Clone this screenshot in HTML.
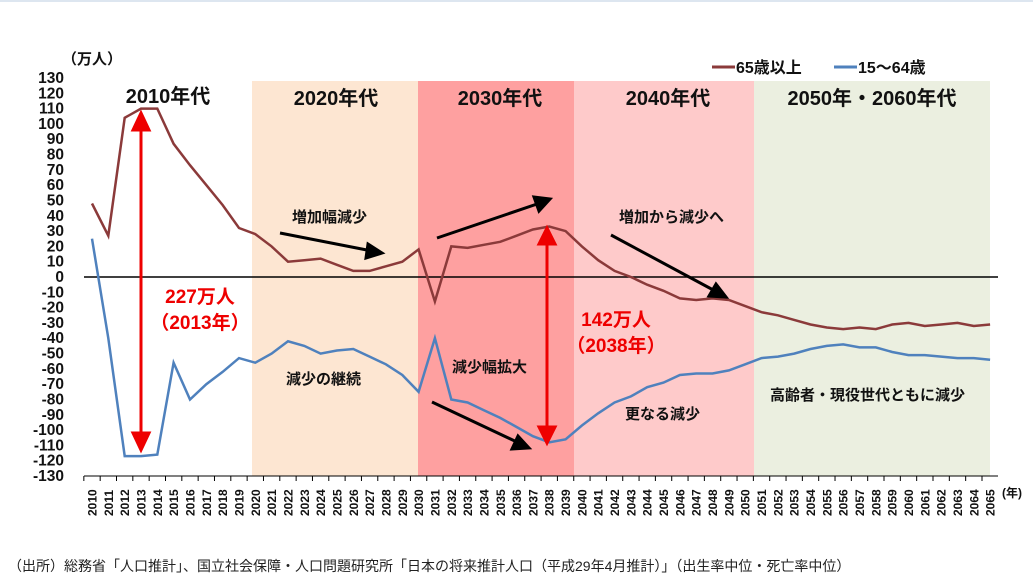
<!DOCTYPE html><html><head><meta charset="utf-8"><style>
body{margin:0;background:#fff;width:1033px;height:581px;overflow:hidden;font-family:"Liberation Sans","Noto Sans CJK JP",sans-serif}
text{font-family:"Liberation Sans","Noto Sans CJK JP",sans-serif}
</style></head><body>
<svg id="s" width="1033" height="581" xmlns="http://www.w3.org/2000/svg">
<line x1="0" y1="1" x2="1033" y2="1" stroke="#dde6f0" stroke-width="2"/>
<rect x="252" y="81" width="166" height="395" fill="#fde6d2"/>
<rect x="418" y="81" width="156" height="395" fill="#fea0a0"/>
<rect x="574" y="81" width="180" height="395" fill="#fecaca"/>
<rect x="754" y="81" width="236" height="395" fill="#ebefe0"/>
<g font-weight="bold" font-size="20" text-anchor="middle" fill="#111">
<text x="168" y="103">2010年代</text><text x="336" y="105">2020年代</text><text x="500" y="105">2030年代</text><text x="668" y="105">2040年代</text><text x="872" y="105">2050年・2060年代</text></g>
<g font-weight="bold" font-size="15" fill="#111">
<text x="62" y="64">（万人）</text>
<line x1="712" y1="67" x2="735" y2="67" stroke="#8b3a3a" stroke-width="3"/><text x="736" y="73" font-size="16">65歳以上</text>
<line x1="834" y1="67" x2="857" y2="67" stroke="#4f81bd" stroke-width="3"/><text x="858" y="73" font-size="16">15～64歳</text>
<text x="292" y="222">増加幅減少</text><text x="619" y="222">増加から減少へ</text>
<text x="286" y="384">減少の継続</text><text x="452" y="372">減少幅拡大</text>
<text x="625" y="419">更なる減少</text><text x="770" y="400">高齢者・現役世代ともに減少</text>
</g>
<g font-weight="bold" font-size="19" fill="#e00" text-anchor="middle">
<text x="200" y="303">227万人</text><text x="200" y="329">（2013年）</text>
<text x="616" y="326">142万人</text><text x="616" y="352">（2038年）</text></g>
<g id="yl" font-weight="bold" font-size="15.5" text-anchor="end" fill="#111"></g>
<g id="xl" font-weight="bold" font-size="12" fill="#111"></g>
<line x1="84" y1="277" x2="998" y2="277" stroke="#000" stroke-width="1.5"/>
<line x1="84" y1="476" x2="998" y2="476" stroke="#000" stroke-width="1"/>
<g id="ticks" stroke="#000"></g>
<path id="p65" fill="none" stroke="#8b3a3a" stroke-width="2.5"/>
<path id="p15" fill="none" stroke="#4f81bd" stroke-width="2.5"/>
<g stroke="#e00" stroke-width="3" fill="#e00">
<line x1="141" y1="125" x2="141" y2="436"/><polygon points="133,130 141,113 149,130"/><polygon points="133,433 141,450 149,433"/>
<line x1="547" y1="240" x2="547" y2="429"/><polygon points="539,244 547,228 555,244"/><polygon points="539,427 547,443 555,427"/></g>
<g stroke="#000" stroke-width="3" fill="#000">
<line x1="280" y1="233" x2="372" y2="251"/><polygon points="382,253 368,244 366,258"/>
<line x1="437" y1="238" x2="540" y2="203"/><polygon points="550,199 534,197 539,211"/>
<line x1="611" y1="235" x2="717" y2="292"/><polygon points="726,297 716,284 709,296"/>
<line x1="432" y1="402" x2="519" y2="443"/><polygon points="529,448 518,436 512,449"/>
</g>
<text x="8" y="571" font-size="14" fill="#222">（出所）総務省「人口推計」、国立社会保障・人口問題研究所「日本の将来推計人口（平成29年4月推計）」（出生率中位・死亡率中位）</text>
</svg>
<script>
var a=[48,27,104,110,110,87,73,60,47,32,28,20,10,11,12,8,4,4,7,10,18,-16,20,19,21,23,27,31,33,30,20,11,4,0,-5,-9,-14,-15,-14,-15,-19,-23,-25,-28,-31,-33,-34,-33,-34,-31,-30,-32,-31,-30,-32,-31];
var b=[25,-40,-117,-117,-116,-56,-80,-70,-62,-53,-56,-50,-42,-45,-50,-48,-47,-52,-57,-64,-75,-40,-80,-82,-87,-92,-98,-104,-108,-106,-97,-89,-82,-78,-72,-69,-64,-63,-63,-61,-57,-53,-52,-50,-47,-45,-44,-46,-46,-49,-51,-51,-52,-53,-53,-54];
function X(i){return 92+i*16.33}function Y(v){return 277-v*1.531}
function P(d){return d.map((v,i)=>(i?'L':'M')+X(i).toFixed(1)+' '+Y(v).toFixed(1)).join(' ')}
document.getElementById('p65').setAttribute('d',P(a));document.getElementById('p15').setAttribute('d',P(b));
var ns='http://www.w3.org/2000/svg',yl=document.getElementById('yl'),xl=document.getElementById('xl'),tk=document.getElementById('ticks');
for(var v=130;v>=-130;v-=10){var t=document.createElementNS(ns,'text');t.setAttribute('x',64);t.setAttribute('y',Y(v)+5);t.textContent=v;yl.appendChild(t);}
for(var i=0;i<56;i++){var t=document.createElementNS(ns,'text');var x=X(i)+4.5,y=516;t.setAttribute('transform','translate('+x+','+y+') rotate(-90)');t.textContent=2010+i;xl.appendChild(t);
var l=document.createElementNS(ns,'line');var xx=X(i)-8.16;l.setAttribute('x1',xx);l.setAttribute('x2',xx);l.setAttribute('y1',476);l.setAttribute('y2',481);tk.appendChild(l);}
var t=document.createElementNS(ns,'text');t.setAttribute('x',1002);t.setAttribute('y',497);t.textContent='(年)';xl.appendChild(t);
</script>
</body></html>
